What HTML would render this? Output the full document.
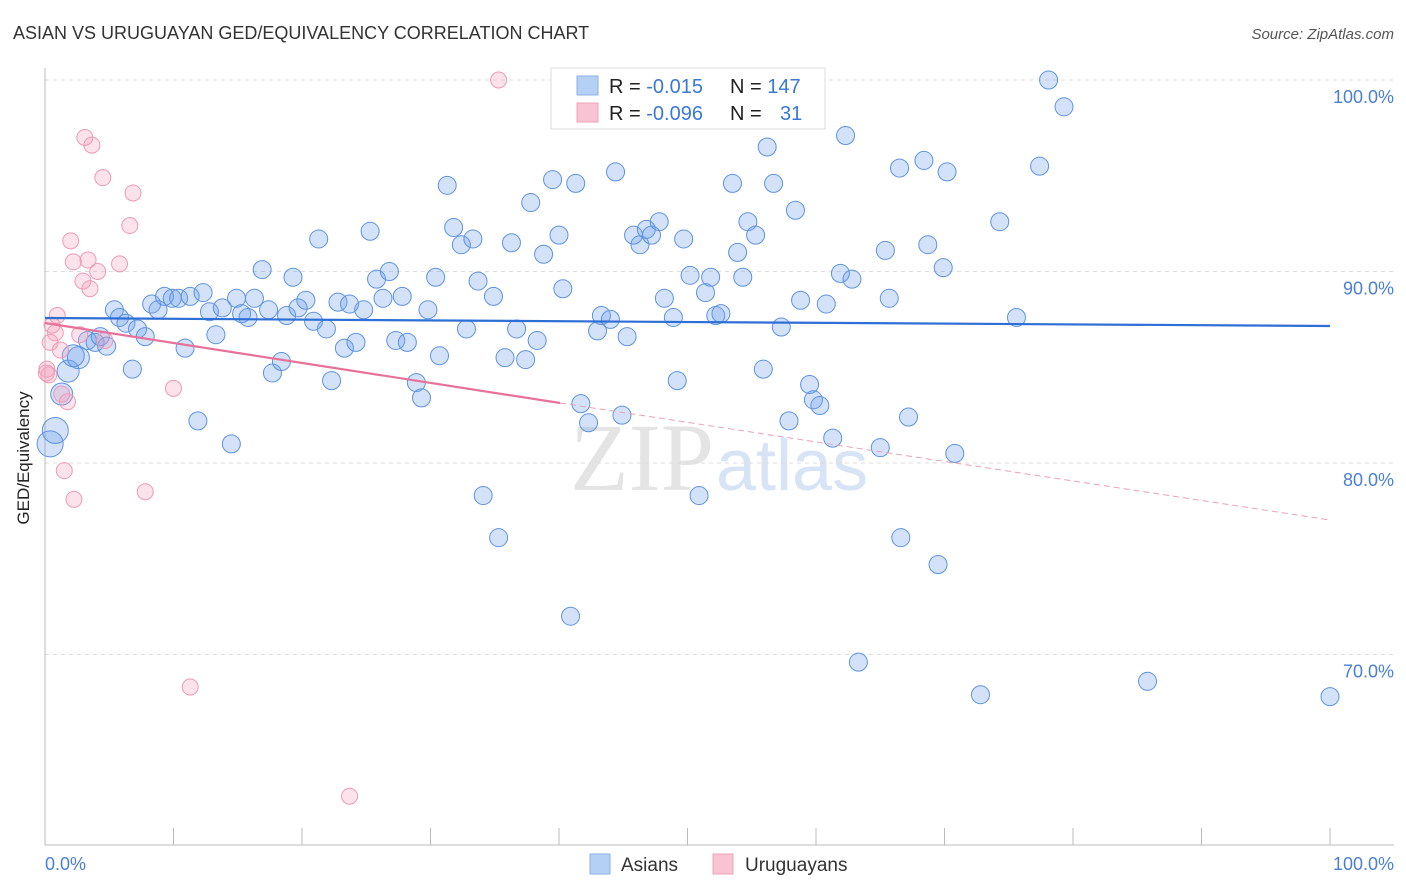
<!DOCTYPE html>
<html><head><meta charset="utf-8"><style>
body{margin:0;background:#fff;font-family:"Liberation Sans",sans-serif}
svg{display:block}
</style></head><body>
<svg id="c" width="1406" height="892" xmlns="http://www.w3.org/2000/svg">
<text x="13" y="39" font-size="18" fill="#333">ASIAN VS URUGUAYAN GED/EQUIVALENCY CORRELATION CHART</text>
<text x="1394" y="39" font-size="15" fill="#555" font-style="italic" text-anchor="end">Source: ZipAtlas.com</text>
<text x="714" y="490" font-size="96" fill="#e4e4e4" font-family="Liberation Serif" text-anchor="end">ZIP</text>
<text x="716" y="490" font-size="72" fill="#d6e4f5">atlas</text>
<g id="grid"></g><g id="axes"></g><g id="pts"></g><g id="trend"></g>
<text x="29" y="458" font-size="17" fill="#222" text-anchor="middle" transform="rotate(-90 29 458)">GED/Equivalency</text>
<text x="45" y="870" font-size="18" fill="#4a7fd6">0.0%</text>
<text x="1394" y="870" font-size="18" fill="#4a7fd6" text-anchor="end">100.0%</text>
<g>
<rect x="551" y="68" width="274" height="61" fill="#fff" stroke="#ddd"/>
<rect x="577" y="76" width="21" height="19" fill="#b5d0f5" stroke="#8ab0e8"/>
<rect x="577" y="103" width="21" height="19" fill="#f8c4d4" stroke="#efa0b8"/>
<text x="609" y="93" font-size="20" fill="#222">R = <tspan fill="#3a78d8">-0.015</tspan></text>
<text x="730" y="93" font-size="20" fill="#222">N = <tspan fill="#3a78d8">147</tspan></text>
<text x="609" y="120" font-size="20" fill="#222">R = <tspan fill="#3a78d8">-0.096</tspan></text>
<text x="730" y="120" font-size="20" fill="#222">N = <tspan fill="#3a78d8" x="780">31</tspan></text>
</g>
<g>
<rect x="590" y="854" width="20" height="20" fill="#b5d0f5" stroke="#8ab0e8"/>
<text x="621" y="871" font-size="19" fill="#333">Asians</text>
<rect x="713" y="854" width="20" height="20" fill="#f8c4d4" stroke="#efa0b8"/>
<text x="745" y="871" font-size="19" fill="#333">Uruguayans</text>
</g>
</svg>
<script>
const yTicks=[100,90,80,70];
const yTickLabels=["100.0%","90.0%","80.0%","70.0%"];
const asianX=[0.4,0.8,1.3,1.8,2.6,2.2,3.3,3.9,4.3,4.8,5.4,5.8,6.3,7.2,7.8,6.8,8.3,8.8,9.3,9.9,10.4,10.9,11.3,11.9,12.3,12.8,13.3,13.8,14.5,14.9,15.3,15.8,16.3,16.9,17.4,17.7,18.4,18.8,19.3,19.7,20.3,20.9,21.3,21.9,22.3,22.8,23.3,23.7,24.2,24.8,25.3,25.8,26.3,26.8,27.3,27.8,28.2,28.9,29.3,29.8,30.4,30.7,31.3,31.8,32.4,32.8,33.3,33.7,34.1,34.9,35.3,35.8,36.3,36.7,37.4,37.8,38.3,38.8,39.5,40.0,40.3,40.9,41.3,41.7,42.3,43.0,43.3,44.0,44.4,44.9,45.3,45.8,46.3,46.8,47.2,47.8,48.2,48.9,49.2,49.7,50.2,50.9,51.4,51.8,52.2,52.6,53.5,53.9,54.3,54.7,55.3,55.9,56.2,56.7,57.3,57.9,58.4,58.8,59.5,59.8,60.3,60.8,61.3,61.9,62.3,62.8,63.3,65.0,65.4,65.7,66.5,66.6,67.2,68.4,68.7,69.5,69.9,70.2,70.8,72.8,74.3,75.6,77.4,78.1,79.3,85.8,100];
const asianY=[81.0,81.7,83.6,84.8,85.5,85.6,86.4,86.3,86.6,86.1,88.0,87.6,87.3,87.0,86.6,84.9,88.3,88.0,88.7,88.6,88.6,86.0,88.7,82.2,88.9,87.9,86.7,88.1,81.0,88.6,87.8,87.6,88.6,90.1,88.0,84.7,85.3,87.7,89.7,88.1,88.5,87.4,91.7,87.0,84.3,88.4,86.0,88.3,86.3,88.0,92.1,89.6,88.6,90.0,86.4,88.7,86.3,84.2,83.4,88.0,89.7,85.6,94.5,92.3,91.4,87.0,91.7,89.5,78.3,88.7,76.1,85.5,91.5,87.0,85.4,93.6,86.4,90.9,94.8,91.9,89.1,72.0,94.6,83.1,82.1,86.9,87.7,87.5,95.2,82.5,86.6,91.9,91.4,92.2,91.9,92.6,88.6,87.6,84.3,91.7,89.8,78.3,88.9,89.7,87.7,87.8,94.6,91.0,89.7,92.6,91.9,84.9,96.5,94.6,87.1,82.2,93.2,88.5,84.1,83.3,83.0,88.3,81.3,89.9,97.1,89.6,69.6,80.8,91.1,88.6,95.4,76.1,82.4,95.8,91.4,74.7,90.2,95.2,80.5,67.9,92.6,87.6,95.5,100,98.6,68.6,67.8];
const uruX=[0.15,0.3,0.55,0.95,0.8,1.2,1.3,1.5,1.75,2.0,2.2,2.25,2.7,2.95,3.1,3.35,3.5,3.65,4.1,4.5,4.65,5.8,6.6,6.85,7.8,10.0,11.3,23.7,35.3,0.1,0.4];
const uruY=[84.9,84.6,87.2,87.7,86.8,85.9,83.6,79.6,83.2,91.6,90.5,78.1,86.7,89.5,97.0,90.6,89.1,96.6,90.0,94.9,86.4,90.4,92.4,94.1,78.5,83.9,68.3,62.6,100,84.7,86.3];
const X=v=>45+v*12.85, Y=v=>80+(100-v)*19.15;
const ns="http://www.w3.org/2000/svg";
function mk(t,a,p){const e=document.createElementNS(ns,t);for(const k in a)e.setAttribute(k,a[k]);p.appendChild(e);return e;}
const g=document.getElementById('grid'),ax=document.getElementById('axes'),pts=document.getElementById('pts'),tr=document.getElementById('trend');
yTicks.forEach((v,i)=>{
 const l=mk('line',{x1:45,x2:1394,y1:Y(v),y2:Y(v),stroke:'#ddd','stroke-dasharray':'4 4'},g);
 
 
 const t=mk('text',{x:1394,y:Y(v)+23,'font-size':18,fill:'#4a7fd6','text-anchor':'end'},g);
 t.textContent=yTickLabels[i];
 
 
});
const ya=mk('line',{x1:45,x2:45,y1:68,y2:845,stroke:'#bbb'},ax);


const xa=mk('line',{x1:45,x2:1394,y1:845,y2:845,stroke:'#bbb'},ax);


for(let i=0;i<=10;i++){const t=mk('line',{x1:X(i*10),x2:X(i*10),y1:828,y2:845,stroke:'#bbb'},ax);
 
 }
asianX.forEach((v,i)=>{const r=(v<1)?13:(v<3?11:9);
 const c=mk('circle',{cx:X(v),cy:Y(asianY[i]),r:r,fill:'rgba(110,160,235,0.3)',stroke:'#5e93e0','stroke-width':1},pts);
 
 });
uruX.forEach((v,i)=>{
 const c=mk('circle',{cx:X(v),cy:Y(uruY[i]),r:8,fill:'rgba(245,160,190,0.3)',stroke:'#ee9ab5','stroke-width':1},pts);
 
 });
const bl=mk('line',{x1:X(0),y1:318,x2:X(100),y2:326,stroke:'#2e6fd6','stroke-width':2.2},tr);


const pl=mk('line',{x1:X(0),y1:323,x2:560,y2:403,stroke:'#e8719a','stroke-width':2.2},tr);


const pd=mk('line',{x1:560,y1:403,x2:X(100),y2:520,stroke:'#eaa0b8','stroke-width':1,'stroke-dasharray':'6 4'},tr);


</script>
</body></html>
